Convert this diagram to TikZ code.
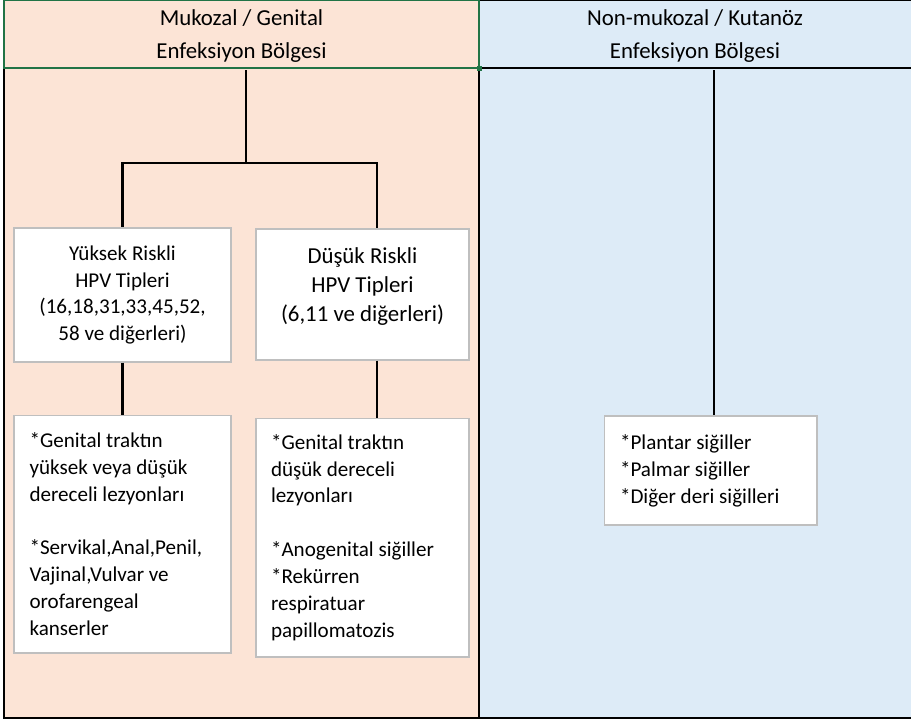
\documentclass[tikz,border=0pt]{standalone}
\usepackage{fontspec}
\setmainfont{Carlito}
\usetikzlibrary{positioning}
\definecolor{mukpeach}{HTML}{FCE4D6}
\definecolor{kutblue}{HTML}{DDEBF7}
\definecolor{cellgreen}{HTML}{217346}
\definecolor{boxgray}{HTML}{BFBFBF}

\begin{document}
\begin{tikzpicture}[x=0.02cm, y=-0.02cm,
    every node/.style={font=\fontsize{12}{15.3}\selectfont, text=black},
    header/.style={draw=none, minimum height=1.36cm, align=center,
        font=\fontsize{13}{18.7}\selectfont},
    typebox/.style={draw=boxgray, fill=white, line width=0.6pt, align=center, inner sep=0pt},
    listbox/.style={draw=boxgray, fill=white, line width=0.6pt, align=flush left, inner sep=0pt},
    link/.style={line width=1.2pt}]
    \useasboundingbox (0,0) rectangle (911,721);
    % background cells
    \fill[mukpeach] (4,0) rectangle (479,718);
    \fill[kutblue] (479,0) rectangle (911,718);
    \draw[line width=0.8pt] (479,0) -- (911,0);
    \draw[line width=0.8pt] (479,68) -- (911,68);
    \draw[line width=0.8pt] (4,68) -- (4,718) -- (911,718);
    \draw[line width=0.8pt] (479,68) -- (479,718);
    \draw[cellgreen, line width=1pt] (4,0) rectangle (479,68);
    \fill[cellgreen] (476.5,65.5) rectangle (481.5,70.5);
    % headers
    \node[header, minimum width=9.5cm] (mukozal) at (241.5,36) {Mukozal / Genital\\Enfeksiyon Bölgesi};
    \node[header, minimum width=8.64cm] (kutanoz) at (695,36) {Non-mukozal / Kutanöz\\Enfeksiyon Bölgesi};
    % type boxes
    \node[typebox, minimum width=4.34cm, minimum height=2.68cm] (yuksek) at (122.5,295)
        {Yüksek Riskli\\HPV Tipleri\\(16,18,31,33,45,52,\\58 ve diğerleri)};
    \node[typebox, minimum width=4.26cm, minimum height=2.62cm,
        font=\fontsize{13}{16.3}\selectfont] (dusuk) at (362.5,294.5)
        {Düşük Riskli\\HPV Tipleri\\(6,11 ve diğerleri)\\[-5pt]};
    % lesion boxes
    \node[listbox, text width=3.72cm, inner xsep=0.31cm, minimum height=4.76cm] (yuksekLez) at (122.5,534)
        {{*}Genital traktın\\yüksek veya düşük\\dereceli lezyonları\\[15.3pt]
         {*}Servikal,Anal,Penil,\\Vajinal,Vulvar ve\\orofarengeal\\kanserler};
    \node[listbox, text width=3.66cm, inner xsep=0.3cm, minimum height=4.78cm] (dusukLez) at (362.5,537.5)
        {{*}Genital traktın\\düşük dereceli\\lezyonları\\[15.3pt]
         {*}Anogenital siğiller\\{*}Rekürren\\respiratuar\\papillomatozis};
    \node[listbox, text width=3.62cm, inner xsep=0.32cm, minimum height=2.18cm] (deri) at (710.5,470.5)
        {{*}Plantar siğiller\\{*}Palmar siğiller\\{*}Diğer deri siğilleri\\[-12pt]};
    % connectors
    \coordinate (split) at (246,163);
    \coordinate (dx) at (377,0);
    \coordinate (rx) at (714,0);
    \draw[link] (mukozal.south -| split) -- (split);
    \draw[link] (split) -| (yuksek.north);
    \draw[link] (split) -| (dusuk.north -| dx);
    \draw[link] (yuksek.south) -- (yuksekLez.north);
    \draw[link] (dusuk.south -| dx) -- (dusukLez.north -| dx);
    \draw[link] (kutanoz.south -| rx) -- (deri.north -| rx);
\end{tikzpicture}
\end{document}
